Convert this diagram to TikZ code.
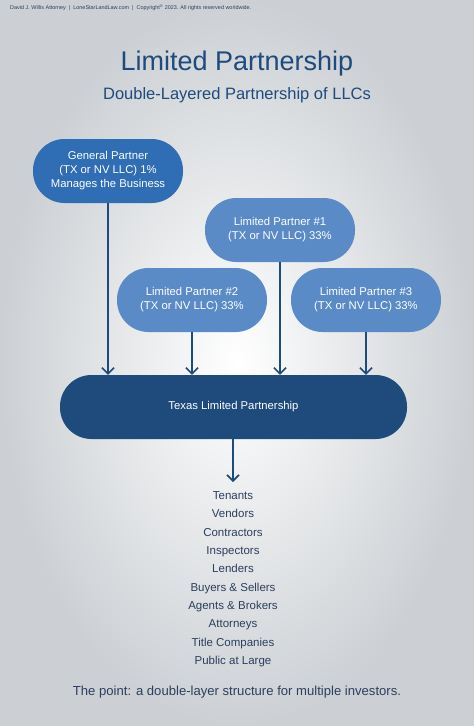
\documentclass[tikz,border=0pt]{standalone}
\usepackage{fontspec}
\setmainfont{Liberation Sans}
\usetikzlibrary{arrows.meta}
\definecolor{gpblue}{HTML}{2F6DB4}
\definecolor{lpblue}{HTML}{5B8BC7}
\definecolor{navy}{HTML}{1E4A7C}
\definecolor{slate}{HTML}{2B3F5E}
\tikzset{
  pill/.style={rounded corners=31.5pt, minimum width=150pt, minimum height=64pt,
    inner sep=0pt, align=center, text=white, font=\fontsize{11.3}{14}\selectfont},
  link/.style={navy, line width=2pt, -{Straight Barb[length=6pt,width=12pt,line width=1.6pt]}},
  party/.style={text=slate, font=\fontsize{11.5}{14}\selectfont, inner sep=0pt, anchor=base}
}
\begin{document}
\begin{tikzpicture}[x=1pt,y=-1pt]
      \useasboundingbox (0,0) rectangle (474,726);
      \shade[inner color=white, outer color={rgb,255:red,204;green,208;blue,212}] (0,0) rectangle (474,726);
      \node [anchor=west, text=slate, font=\fontsize{5.45}{6}\selectfont, inner sep=0] (head) at (10,8)
        {David J. Willis Attorney \ | \ LoneStarLandLaw.com \ | \ Copyright\textsuperscript{\textregistered} 2023. All rights reserved worldwide.};
      \node [text=navy, font=\fontsize{27}{30}\selectfont] (title) at (237,64) {Limited Partnership};
      \node [text=navy, font=\fontsize{16.5}{20}\selectfont] (sub) at (237,95) {Double-Layered Partnership of LLCs};

      \node [pill, fill=gpblue] (GP) at (108,171) {General Partner\\(TX or NV LLC) 1\%\\Manages the Business};
      \node [pill, fill=lpblue] (LP1) at (280,230) {Limited Partner \#1\\(TX or NV LLC) 33\%};
      \node [pill, fill=lpblue] (LP2) at (192,300) {Limited Partner \#2\\(TX or NV LLC) 33\%};
      \node [pill, fill=lpblue] (LP3) at (366,300) {Limited Partner \#3\\(TX or NV LLC) 33\%};
      \node [pill, fill=navy, minimum width=347pt] (TLP) at (233.5,407) {Texas Limited Partnership};

      \draw[link] (GP.south) -- (GP.south |- TLP.north);
      \draw[link] (LP2.south) -- (LP2.south |- TLP.north);
      \draw[link] (LP1.south) -- (LP1.south |- TLP.north);
      \draw[link] (LP3.south) -- (LP3.south |- TLP.north);
      \coordinate (out) at (233,482);
      \draw[link] (TLP.south -| out) -- (out);

      \foreach \who [count=\i from 0] in {Tenants, Vendors, Contractors, Inspectors, Lenders,
          {Buyers \& Sellers}, {Agents \& Brokers}, Attorneys, Title Companies, Public at Large}
        \node [party] (p\i) at (233,499.5+18.33*\i) {\who};

      \node [text=slate, font=\fontsize{13.1}{15}\selectfont] (point) at (237,692)
        {The point: a double-layer structure for multiple investors.};
    \end{tikzpicture}
\end{document}
